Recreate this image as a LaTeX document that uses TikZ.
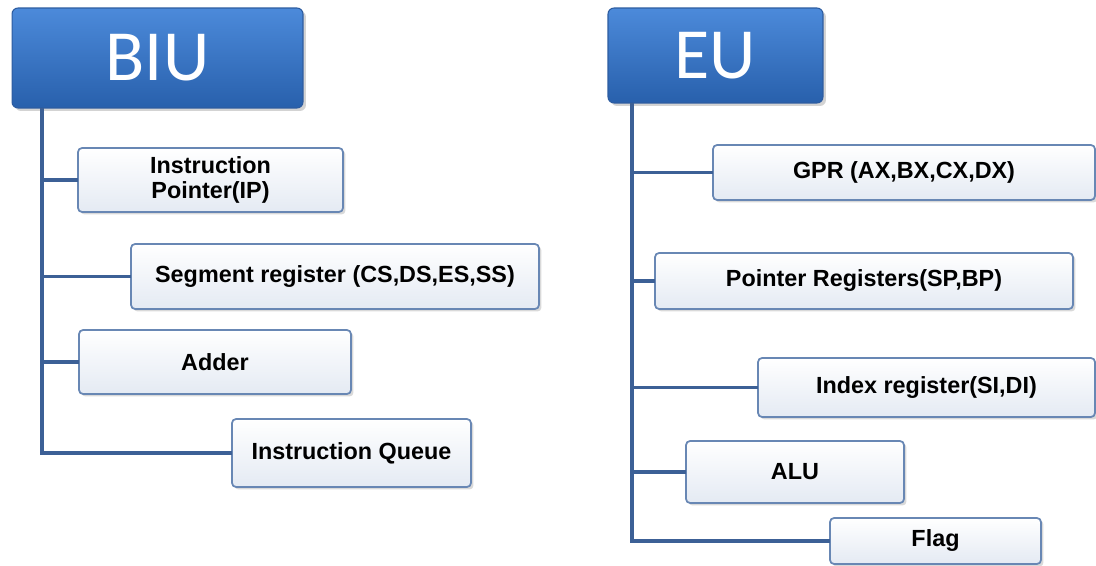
\documentclass[tikz,border=0pt]{standalone}
\usepackage{fontspec}
\setmainfont{Liberation Sans}
\newfontfamily\hdrfont{Carlito}
\usetikzlibrary{shadows}
\definecolor{hdrtop}{RGB}{76,138,218}
\definecolor{hdrbot}{RGB}{40,96,172}
\definecolor{hdredge}{RGB}{45,92,160}
\definecolor{boxedge}{RGB}{104,135,180}
\definecolor{boxbot}{RGB}{228,234,243}
\definecolor{conncol}{RGB}{60,96,150}
\tikzset{
  hdr/.style={rounded corners=0.12cm, draw=hdredge, line width=0.6pt,
    top color=hdrtop, bottom color=hdrbot, text=white,
    inner sep=0pt, outer sep=0pt,
    font=\hdrfont\fontsize{41}{41}\selectfont,
    drop shadow={opacity=0.35, shadow xshift=0.06cm, shadow yshift=-0.06cm}},
  regbox/.style={rounded corners=0.08cm, draw=boxedge, line width=1pt,
    top color=white, bottom color=boxbot, text=black,
    inner sep=0pt, outer sep=0pt, align=center,
    font=\fontsize{13.3}{14.5}\selectfont\bfseries,
    drop shadow={opacity=0.3, shadow xshift=0.05cm, shadow yshift=-0.05cm}},
  conn/.style={draw=conncol, line width=1.8pt}
}
\begin{document}
\begin{tikzpicture}[x=0.02cm, y=-0.02cm]
\useasboundingbox (0,0) rectangle (1096,565);
% headers
\node[hdr, minimum width=5.82cm, minimum height=2.00cm] (biu) at (157.5,58) {BIU};
\node[hdr, minimum width=4.30cm, minimum height=1.90cm] (eu) at (715.5,55.5) {EU};
% BIU children
\node[regbox, minimum width=5.30cm, minimum height=1.28cm] (ip) at (210.5,180) {Instruction\\Pointer(IP)};
\node[regbox, minimum width=8.16cm, minimum height=1.30cm] (seg) at (335,276.5) {Segment register (CS,DS,ES,SS)};
\node[regbox, minimum width=5.44cm, minimum height=1.28cm] (adder) at (215,362) {Adder};
\node[regbox, minimum width=4.78cm, minimum height=1.36cm] (iq) at (351.5,453) {Instruction Queue};
% EU children
\node[regbox, minimum width=7.64cm, minimum height=1.10cm] (gpr) at (904,172.5) {GPR (AX,BX,CX,DX)};
\node[regbox, minimum width=8.36cm, minimum height=1.12cm] (ptr) at (864,281) {Pointer Registers(SP,BP)};
\node[regbox, minimum width=6.74cm, minimum height=1.18cm] (idx) at (926.5,387.5) {Index register(SI,DI)};
\node[regbox, minimum width=4.36cm, minimum height=1.24cm] (alu) at (795,472) {ALU};
\node[regbox, minimum width=4.22cm, minimum height=0.92cm] (flag) at (935.5,541) {Flag};
% trunks
\coordinate (biutop) at (42,108);
\coordinate (eutop) at (632,103);
\begin{scope}[on background layer/.style={}]
\end{scope}
\draw[conn] (biutop) |- (iq.west);
\draw[conn] (biutop |- ip.west) -- (ip.west);
\draw[conn] (biutop |- seg.west) -- (seg.west);
\draw[conn] (biutop |- adder.west) -- (adder.west);
\draw[conn] (eutop) |- (flag.west);
\draw[conn] (eutop |- gpr.west) -- (gpr.west);
\draw[conn] (eutop |- ptr.west) -- (ptr.west);
\draw[conn] (eutop |- idx.west) -- (idx.west);
\draw[conn] (eutop |- alu.west) -- (alu.west);
\end{tikzpicture}
\end{document}
